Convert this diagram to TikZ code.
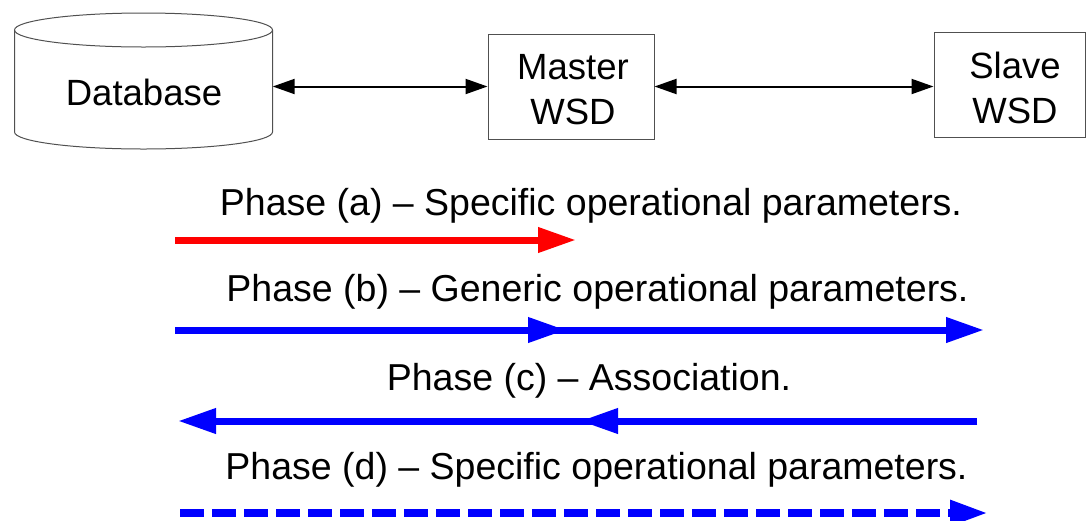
\documentclass[tikz,border=0pt]{standalone}
\usepackage{fontspec}
\setmainfont{Liberation Sans}
\usetikzlibrary{arrows.meta}
\definecolor{pblue}{RGB}{0,0,255}
\definecolor{pred}{RGB}{255,0,0}
\definecolor{edgegray}{RGB}{80,80,80}
\newcommand\bigtxt{\fontsize{36.5}{45}\selectfont}
\newcommand\phasetxt{\fontsize{37.5}{45}\selectfont}
\begin{document}
\begin{tikzpicture}[x=1pt,y=-1pt,
  box/.style={draw=edgegray, line width=1pt, inner sep=0pt},
  plain/.style={inner sep=0pt, font=\bigtxt, align=center},
  phaselabel/.style={inner sep=0pt, font=\phasetxt, anchor=base},
  link/.style={black, line width=2pt, {Triangle[length=22pt,width=15pt]}-{Triangle[length=22pt,width=15pt]}},
  fat/.style={line width=7pt, -{Triangle[length=38pt,width=24pt]}},
  cyl/.style={draw=edgegray, line width=1pt}
]
\useasboundingbox (0,0) rectangle (1086,520);

% database cylinder
\node[minimum width=258pt, minimum height=137pt, inner sep=0pt] (db) at (143.5,81.5) {};
\draw[cyl] (143.5,30) ellipse [x radius=129pt, y radius=17pt];
\draw[cyl] (14.5,30) -- (14.5,132) arc [start angle=180, end angle=360, x radius=129pt, y radius=17pt] -- (272.5,30);
\node[plain] (dbtext) at (144,92) {Database};

% boxes
\node[box, minimum width=166pt, minimum height=105pt] (master) at (571,86.5) {};
\node[plain] (mastertext) at (573,90) {Master\\WSD};
\node[box, minimum width=151pt, minimum height=105pt] (slave) at (1009.5,84.5) {};
\node[plain] (slavetext) at (1015,88) {Slave\\WSD};

% top connectors
\draw[link] (db.east |- master.west) -- (master.west);
\draw[link] (master.east) -- (slave.west |- master.east);

% phase labels
\node[phaselabel] (la) at (591,215) {Phase (a) – Specific operational parameters.};
\node[phaselabel] (lb) at (597.5,301) {Phase (b) – Generic operational parameters.};
\node[phaselabel] (lc) at (589,390) {Phase (c) – Association.};
\node[phaselabel] (ld) at (596.5,479) {Phase (d) – Specific operational parameters.};

% phase arrows
\coordinate (a1) at (175,240);
\coordinate (a2) at (576,240);
\draw[fat, pred] (a1) -- (a2);

\coordinate (b1) at (175,330);
\coordinate (bm) at (566,330);
\coordinate (b2) at (984,330);
\draw[fat, pblue] (b1) -- (b2);
\draw[fat, pblue] (b1) -- (bm);

\coordinate (c1) at (977,421);
\coordinate (cm) at (580,421);
\coordinate (c2) at (178,421);
\draw[fat, pblue] (c1) -- (c2);
\draw[fat, pblue] (c1) -- (cm);

\coordinate (d1) at (180,513);
\coordinate (d2) at (988,513);
\draw[fat, pblue, line width=8.5pt, dash pattern=on 24pt off 8pt] (d1) -- (d2);
\end{tikzpicture}
\end{document}
